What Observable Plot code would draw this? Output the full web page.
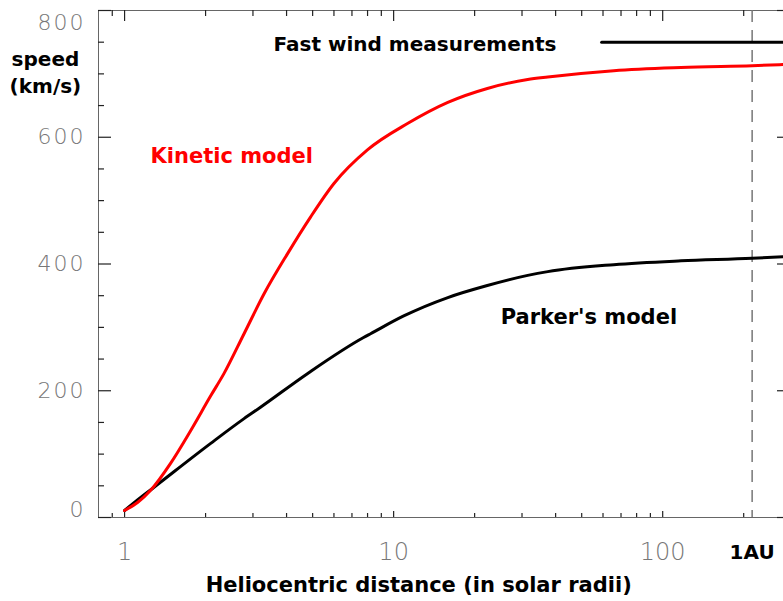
<!DOCTYPE html>
<html><head><meta charset="utf-8">
<script src="https://cdn.jsdelivr.net/npm/d3@7"></script>
<script src="https://cdn.jsdelivr.net/npm/@observablehq/plot@0.6"></script>
<style>
html,body{margin:0;padding:0;background:#fff;overflow:hidden}
#chart{width:783px;height:601px;overflow:hidden}
[aria-label="y-axis tick label"]{letter-spacing:2px}
</style></head><body><div id="chart"></div>
<script>
// Kinetic model (red): heliocentric distance (solar radii) and speed (km/s)
const kineticR = [1.0, 1.12, 1.25, 1.48, 1.76, 2.09, 2.34, 2.78, 3.30, 4.03, 4.91, 6.0, 7.99, 11.3, 15.9, 22.3, 31.5, 37.4, 65.8, 117, 215, 296];
const kineticV = [11, 24, 43, 85, 137, 192, 227, 290, 353, 416, 474, 527, 580, 622, 655, 677, 691, 695, 705, 710, 713, 715];
// Parker's model (black)
const parkerR = [1.0, 1.12, 1.28, 2.09, 2.78, 3.20, 4.78, 7.73, 8.21, 10.9, 15.9, 22.3, 31.5, 37.4, 65.8, 117, 215, 296];
const parkerV = [11, 28, 47, 117, 156, 174, 227, 284, 290, 318, 347, 366, 382, 388, 399, 405, 409, 412];
// Fast wind measurements
const fastWindR = [59.3, 296];
const fastWindV = [750, 750];
const AU = 215;
// ticks
const xMajor = [1, 10, 100];
const xMinor = [0.9, 2, 3, 4, 5, 6, 7, 8, 9, 20, 30, 40, 50, 60, 70, 80, 90, 200];
const yMajor = [0, 200, 400, 600, 800];
const yMinor = [50, 100, 150, 250, 300, 350, 450, 500, 550, 650, 700, 750];
const yLabelsMid = [200, 400, 600];
// annotations
const labelText = ["speed\n(km/s)", "Fast wind measurements", "Kinetic model", "Parker's model", "Heliocentric distance (in solar radii)"];
const labelX = [0.508, 3.58, 1.249, 25.0, 12.39];
const labelY = [705, 750, 573, 320, -104];
const labelColor = ["#000000", "#000000", "#ff0000", "#000000", "#000000"];
const labelAnchor = ["middle", "start", "start", "start", "middle"];
const labelSize = [20, 20, 21, 21, 21];

const kinetic = kineticR.map((r, i) => ({r, v: kineticV[i]}));
const parker = parkerR.map((r, i) => ({r, v: parkerV[i]}));
const fastWind = fastWindR.map((r, i) => ({r, v: fastWindV[i]}));
const labels = labelText.map((t, i) => ({text: t, x: labelX[i], y: labelY[i], color: labelColor[i], anchor: labelAnchor[i], size: labelSize[i]}));

const W = 789, H = 601, ML = 98, MR = 0, MT = 10, MB = 84;
const FW = W - ML - MR, FH = H - MT - MB;
const tk = {stroke: "#222", strokeWidth: 1.2};
const numLabel = {fontSize: 22, fill: "#777", fontWeight: 200, label: null, tickSize: 0, anchor: "left", tickPadding: 13, tickFormat: d => `${d}`};
const textOpts = {x: "x", y: "y", text: "text", fill: "color", fontSize: "size", fontWeight: "bold", lineHeight: 1.35};

const plot = Plot.plot({
  width: W, height: H,
  marginLeft: ML, marginRight: MR, marginTop: MT, marginBottom: MB,
  style: {fontFamily: "DejaVu Sans", background: "#fff", maxWidth: "none"},
  x: {type: "log", domain: [0.8, 296]},
  y: {domain: [0, 800]},
  marks: [
    Plot.frame({stroke: "#666"}),
    // inward ticks on all four sides
    Plot.tickY(yMajor, {y: d => d, ...tk, insetRight: FW - 13}),
    Plot.tickY(yMinor, {y: d => d, ...tk, insetRight: FW - 6}),
    Plot.tickY(yMajor, {y: d => d, ...tk, insetLeft: FW - 12}),
    Plot.tickY(yMinor, {y: d => d, ...tk, insetLeft: FW - 6}),
    Plot.tickX(xMajor, {x: d => d, ...tk, insetBottom: FH - 11}),
    Plot.tickX(xMinor, {x: d => d, ...tk, insetBottom: FH - 6}),
    Plot.tickX(xMajor, {x: d => d, ...tk, insetTop: FH - 6}),
    Plot.tickX(xMinor, {x: d => d, ...tk, insetTop: FH - 4}),
    Plot.axisY(yLabelsMid, numLabel),
    Plot.axisY([800], {...numLabel, dy: 12}),
    Plot.axisY([0], {...numLabel, dy: -8}),
    Plot.axisX(xMajor, {anchor: "bottom", tickSize: 0, tickPadding: 25, fontSize: 24, fill: "#777", fontWeight: 200, label: null, tickFormat: d => `${d}`}),
    Plot.axisX([AU], {anchor: "bottom", tickSize: 0, tickPadding: 27, fontSize: 20, fill: "#000", fontWeight: "bold", label: null, tickFormat: () => "1AU"}),
    Plot.ruleX([AU], {stroke: "#777", strokeWidth: 1.5, strokeDasharray: "12,8"}),
    Plot.line(fastWind, {x: "r", y: "v", stroke: "#000", strokeWidth: 3}),
    Plot.line(parker, {x: "r", y: "v", stroke: "#000", strokeWidth: 3, curve: "monotone-x"}),
    Plot.line(kinetic, {x: "r", y: "v", stroke: "#ff0000", strokeWidth: 3, curve: "monotone-x"}),
    Plot.text(labels.filter(d => d.anchor === "start"), {...textOpts, textAnchor: "start"}),
    Plot.text(labels.filter(d => d.anchor === "middle"), {...textOpts, textAnchor: "middle"})
  ]
});
document.getElementById("chart").appendChild(plot);
</script></body></html>
